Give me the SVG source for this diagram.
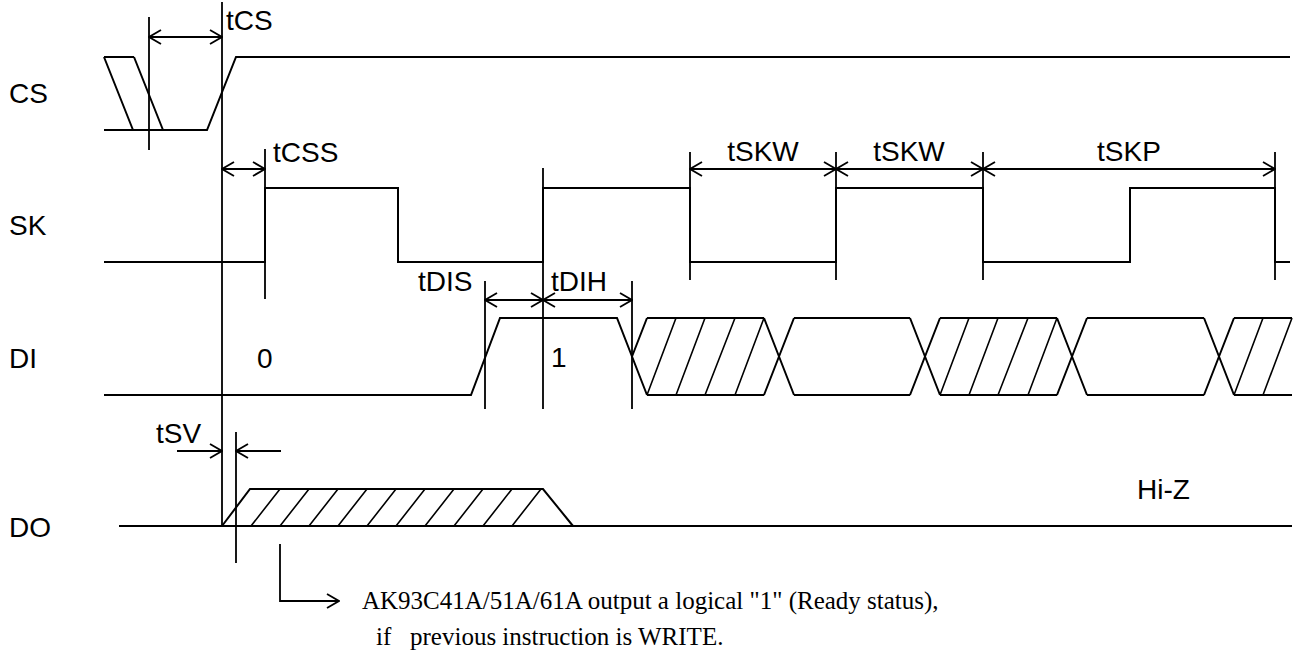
<svg xmlns="http://www.w3.org/2000/svg" width="1297" height="660" viewBox="0 0 1297 660">
<style>
.sig{fill:none;stroke:#000;stroke-width:2;stroke-linejoin:miter}
.thin{fill:none;stroke:#000;stroke-width:1.8}
.hatch{fill:none;stroke:#000;stroke-width:1.6}
.lbl{font-family:"Liberation Sans",Arial,sans-serif;font-size:28px;fill:#000}
.note{font-family:"Liberation Serif","Times New Roman",serif;font-size:25px;fill:#000}
</style>
<defs>
<marker id="ah" viewBox="0 0 14 16" refX="13" refY="8" markerWidth="14" markerHeight="16" markerUnits="userSpaceOnUse" orient="auto-start-reverse">
<path d="M1,1 L13,8 L1,15" fill="none" stroke="#000" stroke-width="1.8"/>
</marker>
</defs>
<rect width="1297" height="660" fill="#fff"/>

<g id="labels">
<text class="lbl" x="9" y="103">CS</text>
<text class="lbl" x="9" y="235">SK</text>
<text class="lbl" x="9" y="368">DI</text>
<text class="lbl" x="9" y="537">DO</text>
</g>

<g id="cs-signal">
<path class="sig" d="M104,57 H134 M104,57 L133,130 M134,57 L163,130 M104,130 H207 L236,57 H1290"/>
</g>

<g id="sk-signal">
<path class="sig" d="M104,262 H265 V188 H398 V262 H543 V188 H690 V262 H836 V188 H983 V262 H1130 V188 H1275 V262 H1290"/>
</g>

<g id="di-signal">
<path class="sig" d="M104,395 H471 L500,318 H617 L647,395 M632,356.5 L647,318"/>
<path class="sig" d="M647,318 H764 M647,395 H764 M764,318 L794,395 M764,395 L794,318"/>
<path class="hatch" d="M647,395 L676,318 M676,395 L705,318 M705,395 L735,318 M735,395 L764,318"/>
<path class="sig" d="M794,318 H910 M794,395 H910 M910,318 L940,395 M910,395 L940,318"/>
<path class="sig" d="M940,318 H1057 M940,395 H1057 M1057,318 L1087,395 M1057,395 L1087,318"/>
<path class="hatch" d="M940,395 L969,318 M969,395 L998,318 M998,395 L1028,318 M1028,395 L1057,318"/>
<path class="sig" d="M1087,318 H1204 M1087,395 H1204 M1204,318 L1234,395 M1204,395 L1234,318"/>
<path class="sig" d="M1234,318 H1292 M1234,395 H1292"/>
<path class="hatch" d="M1234,395 L1263,318 M1263,395 L1292,318"/>
<text class="lbl" x="257" y="368">0</text>
<text class="lbl" x="551" y="367">1</text>
</g>

<g id="do-signal">
<path class="sig" d="M119,526 H1292 M222,526 L250,489 H543 L573,526"/>
<path class="hatch" d="M251,526 L280,489 M280,526 L309,489 M309,526 L338,489 M338,526 L367,489 M367,526 L396,489 M396,526 L425,489 M425,526 L454,489 M454,526 L483,489 M483,526 L512,489 M512,526 L541,489"/>
<text class="lbl" x="1137" y="499">Hi-Z</text>
</g>

<g id="connectors">
<path class="thin" d="M149,17 V150 M222,2 V526 M265,149 V299 M543,168 V409 M485,281 V409 M632,281 V409 M690,152 V280 M836,152 V280 M983,152 V280 M1275,152 V280 M236,432 V563"/>
<line class="thin" x1="149" y1="37" x2="222" y2="37" marker-start="url(#ah)" marker-end="url(#ah)"/>
<line class="thin" x1="222" y1="169" x2="265" y2="169" marker-start="url(#ah)" marker-end="url(#ah)"/>
<line class="thin" x1="485" y1="300" x2="543" y2="300" marker-start="url(#ah)" marker-end="url(#ah)"/>
<line class="thin" x1="543" y1="300" x2="632" y2="300" marker-start="url(#ah)" marker-end="url(#ah)"/>
<line class="thin" x1="690" y1="169" x2="836" y2="169" marker-start="url(#ah)" marker-end="url(#ah)"/>
<line class="thin" x1="836" y1="169" x2="983" y2="169" marker-start="url(#ah)" marker-end="url(#ah)"/>
<line class="thin" x1="983" y1="169" x2="1275" y2="169" marker-start="url(#ah)" marker-end="url(#ah)"/>
<line class="thin" x1="177" y1="451" x2="222" y2="451" marker-end="url(#ah)"/>
<line class="thin" x1="281" y1="451" x2="236" y2="451" marker-end="url(#ah)"/>
<polyline class="thin" points="280,544 280,601 339,601" marker-end="url(#ah)"/>
</g>

<g id="timing-labels">
<text class="lbl" x="226" y="30">tCS</text>
<text class="lbl" x="273" y="162">tCSS</text>
<text class="lbl" x="418" y="291">tDIS</text>
<text class="lbl" x="551" y="291">tDIH</text>
<text class="lbl" x="763" y="161" text-anchor="middle">tSKW</text>
<text class="lbl" x="909" y="161" text-anchor="middle">tSKW</text>
<text class="lbl" x="1129" y="161" text-anchor="middle">tSKP</text>
<text class="lbl" x="156" y="443">tSV</text>
</g>

<g id="note">
<text class="note" x="362" y="609">AK93C41A/51A/61A output a logical "1" (Ready status),</text>
<text class="note" x="376" y="645" xml:space="preserve">if   previous instruction is WRITE.</text>
</g>
</svg>
